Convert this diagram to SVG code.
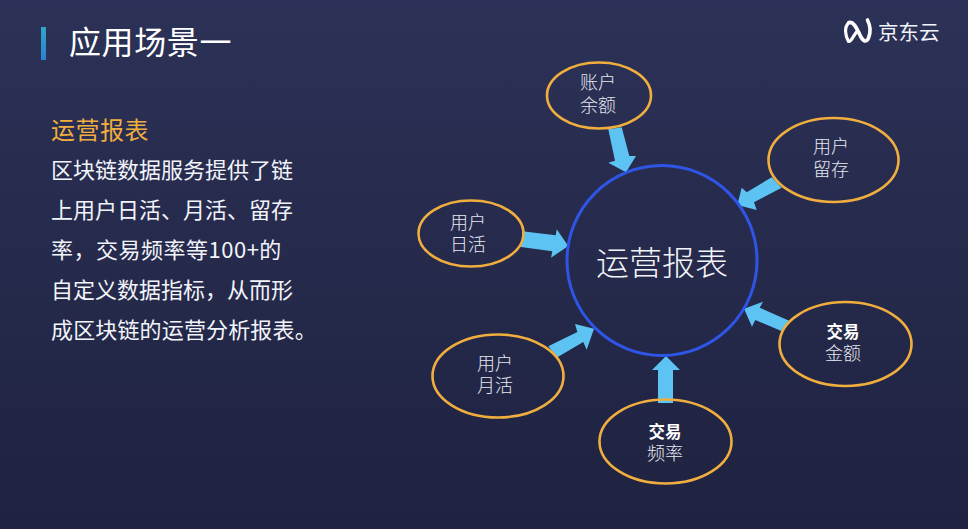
<svg xmlns="http://www.w3.org/2000/svg" width="968" height="529" viewBox="0 0 968 529">
<style>
text{font-family:"Noto Sans CJK SC","Noto Sans",sans-serif}
.body{font-size:22px;fill:#f2f4fa;font-weight:400}
.oval{fill:none;stroke:#f0ae3f;stroke-width:2.6}
.lbl{font-size:18px;fill:#e6e8f1;text-anchor:middle;font-weight:300}
.bold{font-size:16.5px;fill:#fff;font-weight:700}
.arrow{fill:#5cc3f2}
</style>
<defs>
<linearGradient id="bg" x1="0" y1="0" x2="0" y2="1"><stop offset="0" stop-color="#2c3257"/><stop offset="1" stop-color="#1f2240"/></linearGradient>
<linearGradient id="bar" x1="0" y1="0" x2="0" y2="1"><stop offset="0" stop-color="#2fa8c8"/><stop offset="1" stop-color="#2b7fd6"/></linearGradient>
</defs>
<rect width="968" height="529" fill="url(#bg)"/>
<rect x="41" y="27" width="5" height="33" fill="url(#bar)"/>
<text x="69" y="54" font-size="32" fill="#fff" letter-spacing="0.6">应用场景一</text>
<g id="logo">
<path d="M849 22.5C844 27 845 35 848.5 41.5C852 42 853 35 857.5 31" fill="none" stroke="#fff" stroke-width="3.2" stroke-linecap="round" stroke-linejoin="round"/>
<path d="M849 22.5C854 21 857 29 860 35C862 40 866 44 868.5 38C871 32 870 25 867.5 20" fill="none" stroke="#fff" stroke-width="3.6" stroke-linecap="round"/>
<text x="878" y="40" font-size="20.5" fill="#f2f4fa">京东云</text>
</g>
<text x="51" y="139" font-size="24" fill="#f0ae3f" letter-spacing="0.5">运营报表</text>
<text class="body" x="51" y="178">区块链数据服务提供了链</text>
<text class="body" x="51" y="218">上用户日活、月活、留存</text>
<text class="body" x="51" y="258" letter-spacing="0.5">率，交易频率等100+的</text>
<text class="body" x="51" y="298">自定义数据指标，从而形</text>
<text class="body" x="51" y="338" letter-spacing="0.15">成区块链的运营分析报表。</text>
<g id="connectors">
<polygon class="arrow" points="608.3,129.3 621.7,127.3 629.3,156 636,156 626,172.3 608.3,162.7 615,160.7"/>
<polygon class="arrow" points="771.7,177.3 781.7,187.7 754,202.3 756.7,210 737.3,205 741.7,187.7 746.7,192.3"/>
<polygon class="arrow" points="522.3,231.3 521,247 552.3,251.3 551,257.7 568.3,246 556.7,229.3 555.7,235.3"/>
<polygon class="arrow" points="548.3,346.3 557.3,357.3 583.3,342 586.7,349.7 594,328.7 575,324 577.3,332"/>
<polygon class="arrow" points="658,403 673,403 673,370 680,370 666,356 652,370 658,370"/>
<polygon class="arrow" points="789.7,321 781.3,331 755.3,320 752,326.7 744,308.7 763,301.7 759.7,307.7"/>
</g>
<g id="center"><circle cx="662" cy="260.5" r="95" fill="none" stroke="#2f55e6" stroke-width="3"/>
<text x="662" y="275" font-size="33" fill="#f2f4fa" text-anchor="middle" font-weight="300">运营报表</text></g>
<g id="n-balance"><ellipse class="oval" cx="599" cy="95.5" rx="52" ry="33"/><text class="lbl" x="598" y="89">账户<tspan x="598" dy="23">余额</tspan></text></g>
<g id="n-retention"><ellipse class="oval" cx="833.5" cy="160" rx="65" ry="42"/><text class="lbl" x="831" y="153">用户<tspan x="831" dy="23">留存</tspan></text></g>
<g id="n-dau"><ellipse class="oval" cx="471" cy="233.5" rx="52.5" ry="33"/><text class="lbl" x="468" y="229">用户<tspan x="468" dy="22">日活</tspan></text></g>
<g id="n-mau"><ellipse class="oval" cx="498" cy="376" rx="65.5" ry="41.5"/><text class="lbl" x="495" y="370">用户<tspan x="495" dy="22">月活</tspan></text></g>
<g id="n-freq"><ellipse class="oval" cx="665.5" cy="441.5" rx="66" ry="42"/><text class="lbl" x="665" y="438"><tspan class="bold">交易</tspan><tspan x="665" dy="22">频率</tspan></text></g>
<g id="n-amount"><ellipse class="oval" cx="845.5" cy="344" rx="66" ry="42"/><text class="lbl" x="843" y="338"><tspan class="bold">交易</tspan><tspan x="843" dy="22">金额</tspan></text></g>
</svg>
